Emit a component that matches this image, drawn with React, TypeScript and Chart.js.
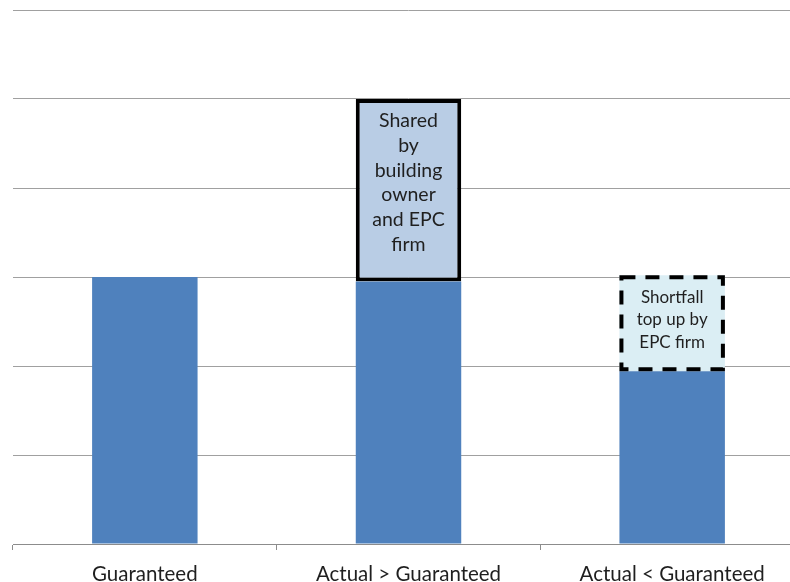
import React, { useEffect, useRef } from "react";
import { Chart, registerables } from "chart.js";

Chart.register(...registerables);

const categories = ["Guaranteed", "Actual > Guaranteed", "Actual < Guaranteed"];
const baseValues = [3, 2.95, 1.94];
const sharedValues = [null, 2.05, null];
const shortfallValues = [null, null, 1.08];
const sharedLabel = ["Shared", "by", "building", "owner", "and EPC", "firm"];
const shortfallLabel = ["Shortfall", "top up by", "EPC firm"];
const yMax = 6;

const FONT = "Lato, 'Open Sans', sans-serif";

const boxPlugin = {
  id: "boxPlugin",
  afterDatasetsDraw(chart: any) {
    const ctx = chart.ctx;
    const m2 = chart.getDatasetMeta(2);
    const el2: any = m2.data[2];
    if (el2) {
      const left = el2.x - el2.width / 2;
      const top = el2.y;
      const h = el2.base - el2.y;
      ctx.save();
      ctx.strokeStyle = "#000000";
      ctx.lineWidth = 4;
      ctx.setLineDash([14, 10]);
      ctx.strokeRect(left + 2, top + 2, el2.width - 4, h - 4);
      ctx.restore();
    }
    const drawLines = (el: any, lines: string[], size: number, spacing: number) => {
      ctx.save();
      ctx.fillStyle = "#1f1f1f";
      ctx.font = `${size}px ${FONT}`;
      ctx.textAlign = "center";
      ctx.textBaseline = "middle";
      lines.forEach((t, i) => ctx.fillText(t, el.x, el.y + 22 + i * spacing));
      ctx.restore();
    };
    const m1 = chart.getDatasetMeta(1);
    if (m1.data[1]) drawLines(m1.data[1], sharedLabel, 19.5, 24.7);
    if (el2) drawLines(el2, shortfallLabel, 17, 22.5);
  },
};

export default function App() {
  const ref = useRef<HTMLCanvasElement>(null);
  useEffect(() => {
    if (!ref.current) return;
    const chart = new Chart(ref.current, {
      type: "bar",
      data: {
        labels: categories,
        datasets: [
          {
            data: baseValues,
            backgroundColor: "#4f81bd",
            borderWidth: 0,
          },
          {
            data: sharedValues as any,
            backgroundColor: "#b9cde5",
            borderColor: "#000000",
            borderWidth: 4,
            borderSkipped: false,
          },
          {
            data: shortfallValues as any,
            backgroundColor: "#dbeef4",
            borderWidth: 0,
          },
        ],
      },
      options: {
        responsive: false,
        animation: false,
        layout: { padding: { left: 13, top: 10, right: 16, bottom: 0 } },
        datasets: { bar: { barPercentage: 0.4, categoryPercentage: 1 } } as any,
        plugins: { legend: { display: false }, tooltip: { enabled: false } },
        scales: {
          x: {
            stacked: true,
            offset: true,
            grid: {
              offset: true,
              drawOnChartArea: false,
              tickLength: 6,
              color: "#8c8c8c",
            },
            border: { color: "#8c8c8c" },
            ticks: {
              color: "#1f1f1f",
              font: { family: FONT, size: 20.5 },
              padding: 12,
              maxRotation: 0,
              autoSkip: false,
            },
            afterFit: (s: any) => {
              s.height = 38;
            },
          },
          y: {
            stacked: true,
            min: 0,
            max: yMax,
            ticks: { display: false, stepSize: 1 },
            grid: { color: "#a0a0a0", drawTicks: false },
            border: { display: false },
          },
        },
      },
      plugins: [boxPlugin],
    });
    return () => chart.destroy();
  }, []);
  return (
    <div
      style={{
        position: "fixed",
        left: 0,
        top: 0,
        width: 790,
        height: 582,
        overflow: "hidden",
        background: "#ffffff",
      }}
    >
      <canvas ref={ref} width={820} height={582} style={{ display: "block" }} />
    </div>
  );
}
